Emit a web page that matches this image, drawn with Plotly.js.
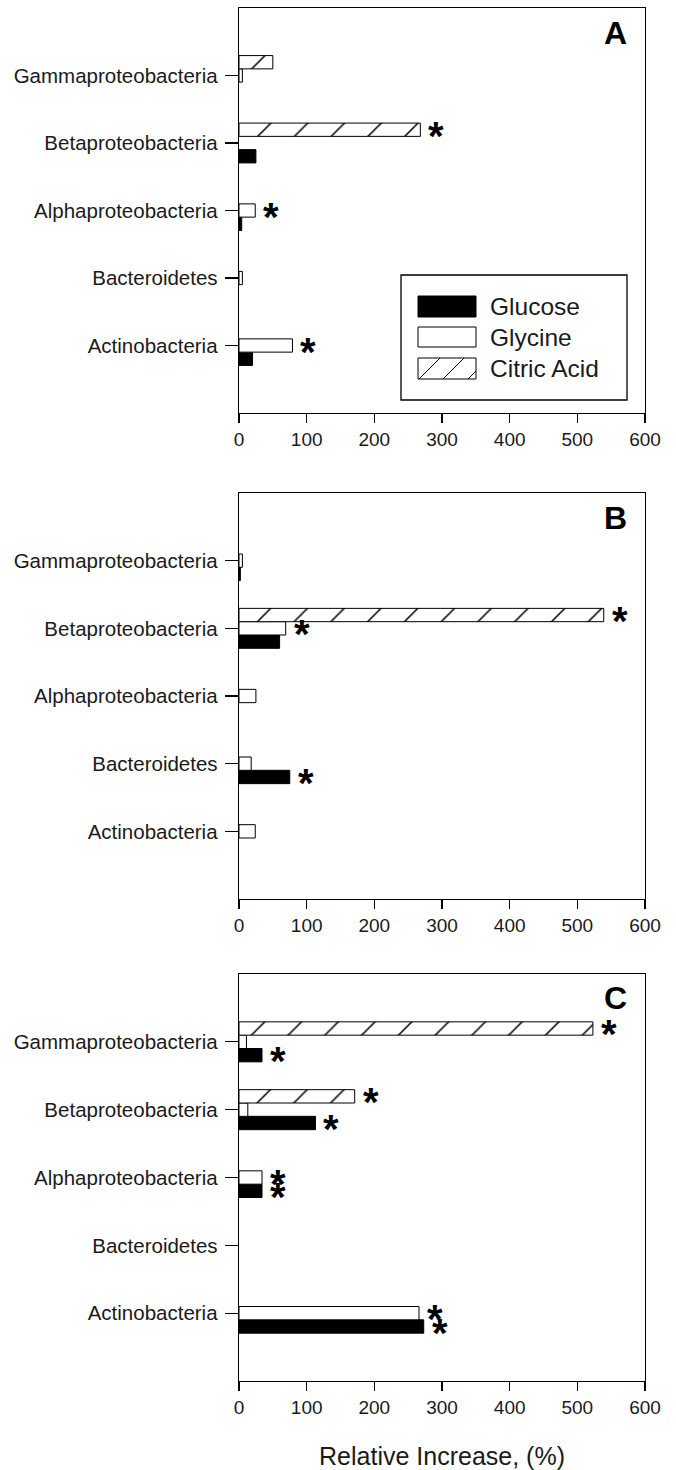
<!DOCTYPE html>
<html>
<head>
<meta charset="utf-8">
<script src="https://cdn.plot.ly/plotly-3.0.1.min.js"></script>
<style>html,body{margin:0;padding:0;background:#fff;}#chart{width:676px;height:1470px;}</style>
</head>
<body>
<div id="chart"></div>
<script>
// ---- data ----
const categories = ['Actinobacteria','Bacteroidetes','Alphaproteobacteria','Betaproteobacteria','Gammaproteobacteria'];
const seriesNames = ['Glucose','Glycine','Citric Acid'];
const xTickVals = [0,100,200,300,400,500,600];
const panelLabels = ['A','B','C'];

// Panel A
const glucoseA = [20, 0, 4, 25, 0];
const glycineA = [79, 5, 24, 0, 5];
const citricA  = [0, 0, 0, 268, 50];
const starGlucoseA = [0,0,0,0,0];
const starGlycineA = [1,0,1,0,0];
const starCitricA  = [0,0,0,1,0];
// Panel B
const glucoseB = [0, 75, 0, 60, 2];
const glycineB = [24, 18, 25, 69, 5];
const citricB  = [0, 0, 0, 539, 0];
const starGlucoseB = [0,1,0,0,0];
const starGlycineB = [0,0,0,1,0];
const starCitricB  = [0,0,0,1,0];
// Panel C
const glucoseC = [273, 0, 34, 113, 34];
const glycineC = [266, 0, 34, 13, 11];
const citricC  = [0, 0, 0, 171, 523];
const starGlucoseC = [1,0,1,1,1];
const starGlycineC = [1,0,1,0,0];
const starCitricC  = [0,0,0,1,1];

// ---- layout helpers ----
const W = 676, H = 1470;
const FONT = 'Liberation Sans, Arial, sans-serif';
const TXT = '#1a1a1a';
const px = x => x / W;
const py = y => 1 - y / H;
const BARGAP = 0.41;
const barUnit = (1 - BARGAP) / 3;

const panels = [
  {gl: glucoseA, gy: glycineA, ci: citricA, sg: starGlucoseA, sy: starGlycineA, sc: starCitricA, top: 8, bottom: 413, letterY: 33},
  {gl: glucoseB, gy: glycineB, ci: citricB, sg: starGlucoseB, sy: starGlycineB, sc: starCitricB, top: 493, bottom: 899, letterY: 518},
  {gl: glucoseC, gy: glycineC, ci: citricC, sg: starGlucoseC, sy: starGlycineC, sc: starCitricC, top: 974, bottom: 1381, letterY: 998}
];

const traces = [];
const annotations = [];
const layout = {
  width: W, height: H,
  margin: {l: 0, r: 0, t: 0, b: 0},
  paper_bgcolor: '#fff', plot_bgcolor: '#fff',
  showlegend: false,
  barmode: 'group', bargap: BARGAP, bargroupgap: 0,
  font: {family: FONT, color: TXT},
  shapes: [],
  annotations: annotations
};

// outline only for bars that have a length (no stray slivers for zero values)
const outline = vals => ({color: '#000', width: vals.map(v => (v > 0 ? 1 : 0))});

panels.forEach((p, k) => {
  const sfx = k === 0 ? '' : String(k + 1);
  const xa = 'x' + sfx, ya = 'y' + sfx;
  traces.push({
    type: 'bar', orientation: 'h', name: seriesNames[0], x: p.gl, y: categories,
    xaxis: xa, yaxis: ya, marker: {color: '#000', line: outline(p.gl)}, hoverinfo: 'x+y'
  });
  traces.push({
    type: 'bar', orientation: 'h', name: seriesNames[1], x: p.gy, y: categories,
    xaxis: xa, yaxis: ya, marker: {color: '#fff', line: outline(p.gy)}, hoverinfo: 'x+y'
  });
  traces.push({
    type: 'bar', orientation: 'h', name: seriesNames[2], x: p.ci, y: categories,
    xaxis: xa, yaxis: ya,
    marker: {color: '#fff', line: outline(p.ci),
      pattern: {shape: '/', fgcolor: '#000', bgcolor: '#fff', size: 26, solidity: 0.06}},
    hoverinfo: 'x+y'
  });

  layout['xaxis' + sfx] = {
    domain: [px(239), px(645)], anchor: ya,
    range: [0, 600], tickvals: xTickVals, ticktext: xTickVals.map(String),
    ticks: 'outside', ticklen: 9, tickwidth: 1.2, tickcolor: '#000',
    showline: true, mirror: true, linecolor: '#000', linewidth: 1.3,
    showgrid: false, zeroline: false, automargin: false,
    tickfont: {family: FONT, size: 19, color: TXT}
  };
  layout['yaxis' + sfx] = {
    domain: [py(p.bottom), py(p.top)], anchor: xa,
    type: 'category', categoryorder: 'array', categoryarray: categories,
    range: [-1, 5], autorange: false,
    ticks: 'outside', ticklen: 13, tickwidth: 1.2, tickcolor: '#000',
    showline: true, mirror: true, linecolor: '#000', linewidth: 1.3,
    showgrid: false, zeroline: false, automargin: false,
    tickfont: {family: FONT, size: 20.5, color: TXT}, ticklabelstandoff: 3
  };

  // significance stars
  const groups = [[p.gl, p.sg, -1], [p.gy, p.sy, 0], [p.ci, p.sc, 1]];
  groups.forEach(([vals, flags, off]) => {
    flags.forEach((f, i) => {
      if (!f) return;
      annotations.push({
        xref: xa, yref: ya, x: vals[i], y: i + off * barUnit,
        text: '<b>*</b>', showarrow: false, xanchor: 'center', yanchor: 'middle',
        xshift: 16, yshift: -6,
        font: {family: FONT, size: 40, color: '#000'}
      });
    });
  });

  // panel letter
  annotations.push({
    xref: 'paper', yref: 'paper', x: px(615), y: py(p.letterY),
    text: '<b>' + panelLabels[k] + '</b>', showarrow: false,
    xanchor: 'center', yanchor: 'middle',
    font: {family: FONT, size: 32, color: '#000'}
  });
});

layout.xaxis3.title = {text: 'Relative Increase, (%)', font: {family: FONT, size: 25, color: TXT}, standoff: 32};

// ---- manual legend (panel A) ----
const lg = {x0: 401, x1: 627, y0: 275, y1: 400, sx0: 418, sx1: 476, tx: 488,
            rows: [[296, 317], [327, 347], [358, 379]]};
layout.shapes.push({type: 'rect', xref: 'paper', yref: 'paper',
  x0: px(lg.x0), x1: px(lg.x1), y0: py(lg.y1), y1: py(lg.y0),
  line: {color: '#000', width: 1.3}, fillcolor: '#fff', layer: 'above'});
const swFill = ['#000', '#fff', '#fff'];
lg.rows.forEach(([a, b], r) => {
  layout.shapes.push({type: 'rect', xref: 'paper', yref: 'paper',
    x0: px(lg.sx0), x1: px(lg.sx1), y0: py(b), y1: py(a),
    line: {color: '#000', width: 1}, fillcolor: swFill[r], layer: 'above'});
  annotations.push({xref: 'paper', yref: 'paper', x: px(lg.tx), y: py((a + b) / 2),
    text: seriesNames[r], showarrow: false, xanchor: 'left', yanchor: 'middle',
    font: {family: FONT, size: 24.5, color: TXT}});
});
// hatch lines inside the Citric Acid swatch
const hr = lg.rows[2];
[[lg.sx0 + 1, hr[1], lg.sx0 + 1 + (hr[1]-hr[0]), hr[0]],
 [lg.sx0 + 25, hr[1], lg.sx0 + 25 + (hr[1]-hr[0]), hr[0]],
 [lg.sx0 + 50, hr[1], lg.sx1, hr[1] - (lg.sx1 - lg.sx0 - 50)]].forEach(([a, b, c, d]) => {
  layout.shapes.push({type: 'line', xref: 'paper', yref: 'paper',
    x0: px(a), y0: py(b), x1: px(c), y1: py(d), line: {color: '#000', width: 1}, layer: 'above'});
});

Plotly.newPlot('chart', traces, layout, {displayModeBar: false, staticPlot: true});
</script>
</body>
</html>
